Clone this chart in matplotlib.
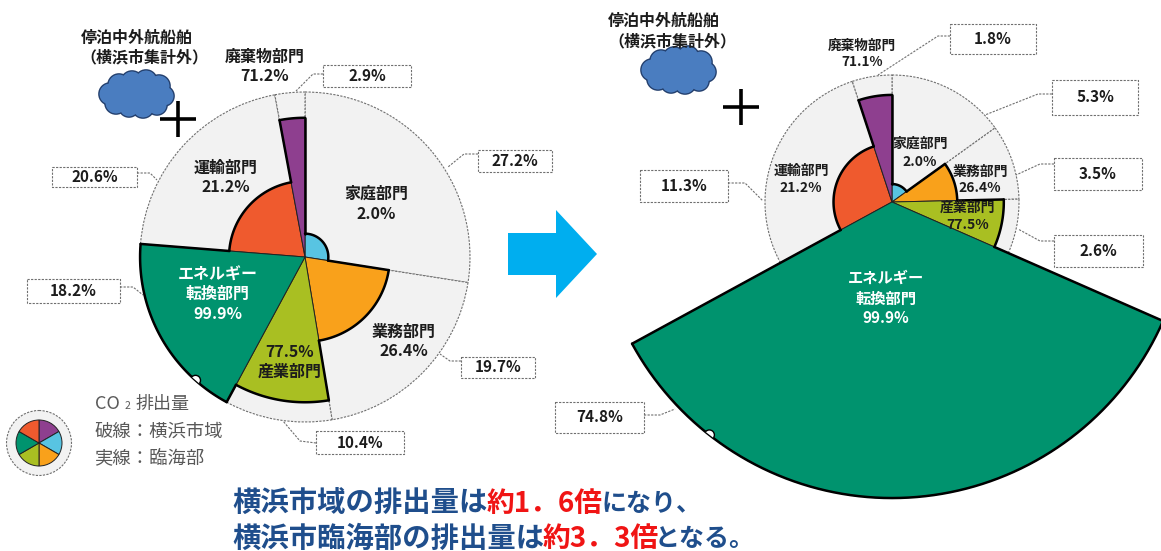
import numpy as np
import matplotlib
matplotlib.use("Agg")
import matplotlib.pyplot as plt
from matplotlib.patches import Wedge, Circle, Polygon, Rectangle

plt.rcParams['font.family'] = ['Noto Sans CJK JP', 'DejaVu Sans']

# ---- data ----
sectors = ['家庭部門', '業務部門', '産業部門', 'エネルギー転換部門', '運輸部門', '廃棄物部門']
colors = ['#58c4e2', '#f9a11b', '#a9bf22', '#00936e', '#ef5a2e', '#8e3f8f']
rinkai_left = [2.0, 26.4, 77.5, 99.9, 21.2, 71.2]
rinkai_right = [2.0, 26.4, 77.5, 99.9, 21.2, 71.1]
city_left = [27.2, 19.7, 10.4, 18.2, 20.6, 2.9]
city_right_labels = [1.8, 5.3, 3.5, 2.6, 74.8, 11.3]
# on the right chart the sector sweep (degrees) does not follow the labels
sweep_right = [54.3, 34.4, 25.0, 127.7, 100.4, 18.2]
legend_parts = [1, 1, 1, 1, 1, 1]
legend_colors = ['#8e3f8f', '#58c4e2', '#f9a11b', '#a9bf22', '#00936e', '#ef5a2e']

GRAY = '#f2f2f2'
DASH = '#6f6f6f'
TXT = '#1c1c1c'

fig = plt.figure(figsize=(11.61, 5.51), dpi=100)
ax = fig.add_axes([0, 0, 1, 1])
ax.set_xlim(0, 1161)
ax.set_ylim(551, 0)
ax.axis('off')


def wedge(c, r, start, sweep, **kw):
    """clockwise from `start` (deg, maths sense) on a y-down axis"""
    return Wedge(c, r, -start, -start + sweep, **kw)


def polar(c, r, deg):
    th = np.radians(deg)
    return c[0] + r * np.cos(th), c[1] - r * np.sin(th)


def pie(c, R, sweeps, rinkai, big=None):
    big = big or {}
    a = 90.0
    bounds = []
    for s in sweeps:
        bounds.append((a, s))
        a -= s
    for (st, s) in bounds:
        ax.add_patch(wedge(c, R, st, s, fc=GRAY, ec=DASH, lw=0.8, ls=(0, (2, 1.2)), zorder=1))
    radii = [big.get(i, R) * np.sqrt(rinkai[i] / 100) for i in range(6)]
    order = sorted(range(6), key=lambda i: i == 3)
    for i in order:
        st, s = bounds[i]
        ax.add_patch(wedge(c, radii[i], st, s, fc=colors[i], ec='#222222', lw=0.7, zorder=2 + (i == 3)))
    # heavy outline only on the outer contour of the coloured area
    for i in range(6):
        st, s = bounds[i]
        ts = np.linspace(st, st - s, 80)
        xs, ys = polar(c, radii[i], ts)
        z = 3.5
        ax.plot(xs, ys, color='black', lw=1.8, zorder=z, solid_capstyle='round')
        prev = radii[i - 1]
        lo, hi = sorted((prev, radii[i]))
        x, y = polar(c, np.array([lo, hi]), st)
        ax.plot(x, y, color='black', lw=1.8, zorder=z, solid_capstyle='round')
    return bounds


def notch(c, R, st, s, frac):
    x, y = polar(c, R, st - s * frac)
    w = wedge(c, R, st, s, fc='none', ec='none', zorder=3)
    ax.add_patch(w)
    p = Circle((x, y), 5, fc='white', ec='black', lw=1, zorder=4)
    ax.add_patch(p)
    p.set_clip_path(w)


def box(x0, y0, x1, y1, val, line):
    ax.add_patch(Rectangle((x0, y0), x1 - x0, y1 - y0, fc='white', ec=DASH, lw=0.8,
                           ls=(0, (2, 1.2)), zorder=5))
    ax.text((x0 + x1) / 2, (y0 + y1) / 2, f'{val}%', ha='center', va='center',
            fontsize=11, fontweight='bold', color=TXT, zorder=6)
    xs, ys = zip(*line)
    ax.plot(xs, ys, color=DASH, lw=0.8, ls=(0, (2, 1.2)), zorder=5)


def label(x, y, s, size=11.5, color=TXT, weight='bold', z=7):
    ax.text(x, y, s, ha='center', va='center', fontsize=size, color=color,
            fontweight=weight, zorder=z)


def cloud(cx, cy):
    bumps = [(-27, 0, 11), (-18, -9, 11), (-5, -12, 11), (9, -13, 11), (22, -8, 11), (27, 2, 10),
             (20, 11, 10), (6, 13, 11), (-8, 13, 10), (-21, 9, 11), (0, 0, 16), (-12, 0, 15), (12, 0, 15)]
    for dx, dy, r in bumps:
        ax.add_patch(Circle((cx + dx, cy + dy), r, fc='#4a7dc0', ec='#24406e', lw=1.2, zorder=2))
    for dx, dy, r in bumps:
        ax.add_patch(Circle((cx + dx, cy + dy), r - 0.6, fc='#4a7dc0', ec='none', zorder=2.1))


def plus(cx, cy):
    ax.plot([cx - 18, cx + 18], [cy, cy], color='black', lw=2.6, zorder=3, solid_capstyle='butt')
    ax.plot([cx, cx], [cy - 18, cy + 18], color='black', lw=2.6, zorder=3, solid_capstyle='butt')


# ---- left chart ----
cL = (305, 257)
RL = 165
tot = sum(city_left)
sw_left = [v / tot * 360 for v in city_left]
bL = pie(cL, RL, sw_left, rinkai_left)
notch(cL, RL * np.sqrt(.999), bL[3][0], bL[3][1], 0.20)

box(323, 65, 411, 87, city_left[5], [(323, 74), (313, 74), (296, 91)])
box(478, 150, 552, 172, city_left[0], [(478, 154), (464, 154), (448, 167)])
box(52, 167, 137, 187, city_left[4], [(137, 173), (150, 173), (157, 180)])
box(27, 279, 120, 303, city_left[3], [(120, 287), (133, 287), (143, 295)])
box(461, 357, 535, 378, city_left[1], [(461, 361), (450, 361), (440, 354)])
box(316, 431, 404, 454, city_left[2], [(316, 443), (300, 441), (283, 421)])

label(137, 38, '停泊中外航船舶')
label(144, 57, '（横浜市集計外）')
label(265, 57, '廃棄物部門')
label(265, 76, f'{rinkai_left[5]}%')
label(226, 168, '運輸部門')
label(226, 187, f'{rinkai_left[4]}%')
label(376, 194, '家庭部門')
label(376, 214, f'{rinkai_left[0]}%')
label(218, 275, 'エネルギー', color='white')
label(218, 294, '転換部門', color='white')
label(218, 314, f'{rinkai_left[3]}%', color='white')
label(404, 332, '業務部門')
label(404, 351, f'{rinkai_left[1]}%')
label(290, 352, f'{rinkai_left[2]}%')
label(290, 372, '産業部門')
cloud(137, 94)
plus(178, 119)

# ---- right chart ----
cR = (892, 202)
RR = 127
bR = pie(cR, RR, sweep_right, rinkai_right, big={3: 296.2})
notch(cR, 296, bR[3][0], bR[3][1], 0.8175)

box(950, 24, 1036, 54, city_right_labels[0], [(950, 36), (938, 36), (878, 75)])
box(1052, 80, 1138, 115, city_right_labels[1], [(1052, 94), (1038, 94), (985, 115)])
box(1054, 158, 1142, 190, city_right_labels[2], [(1054, 164), (1040, 164), (1016, 175)])
box(1054, 235, 1143, 267, city_right_labels[3], [(1054, 241), (1040, 241), (1018, 229)])
box(640, 170, 728, 202, city_right_labels[5], [(728, 183), (745, 183), (763, 201)])
box(555, 402, 644, 433, city_right_labels[4], [(644, 415), (660, 415), (675, 409)])

label(664, 21, '停泊中外航船舶')
label(672, 41, '（横浜市集計外）')
label(862, 46, '廃棄物部門', size=9.8)
label(862, 62, f'{rinkai_right[5]}%', size=9.8)
label(920, 144, '家庭部門', size=10)
label(920, 162, f'{rinkai_right[0]}%', size=10)
label(980, 172, '業務部門', size=10)
label(980, 188, f'{rinkai_right[1]}%', size=10)
label(968, 208, '産業部門', size=10)
label(968, 225, f'{rinkai_right[2]}%', size=10)
label(801, 171, '運輸部門', size=10)
label(801, 188, f'{rinkai_right[4]}%', size=10)
label(886, 278, 'エネルギー', size=11, color='white')
label(886, 299, '転換部門', size=11, color='white')
label(886, 318, f'{rinkai_right[3]}%', size=11, color='white')
cloud(679, 70)
plus(741, 107)

# ---- arrow ----
ax.add_patch(Polygon([(508, 233), (556, 233), (556, 210), (597, 254), (556, 298), (556, 275), (508, 275)],
                     closed=True, fc='#00aeef', ec='none', zorder=2))

# ---- legend ----
cI = (39, 443)
ax.add_patch(Circle(cI, 32.5, fc=GRAY, ec=DASH, lw=0.8, ls=(0, (2, 1.2)), zorder=1))
a = 90.0
for v, col in zip(legend_parts, legend_colors):
    s = v / sum(legend_parts) * 360
    ax.add_patch(wedge(cI, 23, a, s, fc=col, ec='#222222', lw=0.7, zorder=2))
    a -= s
LG = '#595959'
ax.text(95, 404, 'CO', fontsize=13, color=LG, va='center', ha='left')
ax.text(125, 406, '2', fontsize=7.5, color=LG, va='center', ha='left')
ax.text(135, 404, '排出量', fontsize=13, color=LG, va='center', ha='left')
ax.text(94, 432, '破線：横浜市域', fontsize=13.2, color=LG, va='center', ha='left')
ax.text(94, 458, '実線：臨海部', fontsize=13.2, color=LG, va='center', ha='left')

# ---- message ----
BL = '#1f4e8c'
RD = '#f01414'
for x, y, s, c, fs in [(232, 504, '横浜市域の排出量は', BL, 20.4), (487, 504, '約1．6倍', RD, 20.0), (601, 504, 'になり、', BL, 18),
                       (232, 539, '横浜市臨海部の排出量は', BL, 20.4), (543, 539, '約3．3倍', RD, 20.0), (655, 539, 'となる。', BL, 18)]:
    ax.text(x, y, s, fontsize=fs, color=c, fontweight='bold', ha='left', va='center')

fig.savefig('out.png', dpi=100)
